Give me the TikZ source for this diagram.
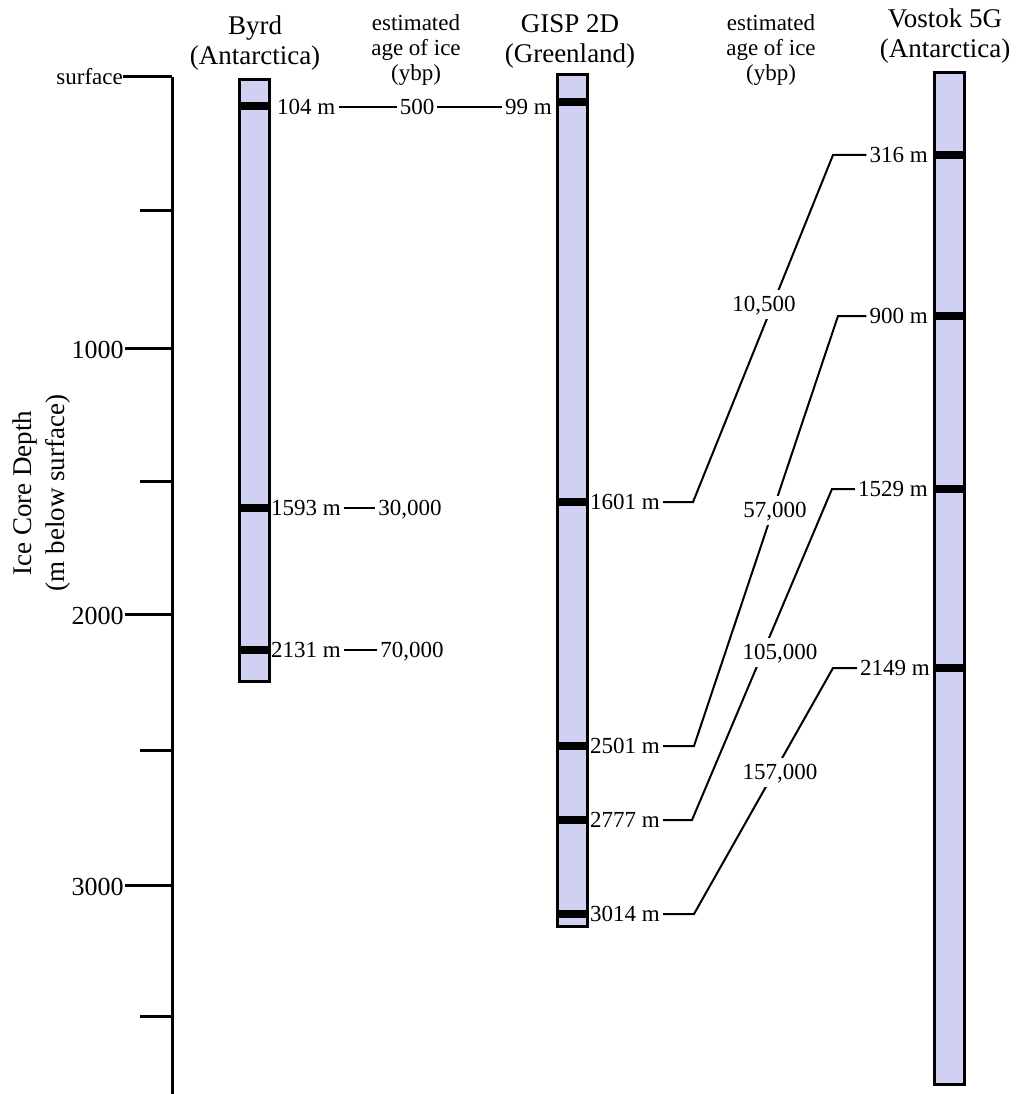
\documentclass[tikz,border=0pt]{standalone}
\usepackage{fontspec}
\setmainfont{Liberation Serif}
\definecolor{icefill}{RGB}{208,209,242}

\begin{document}
\begin{tikzpicture}[x=1pt,y=-1pt,
  core/.style={draw,line width=3pt,fill=icefill,inner sep=0pt,anchor=north,minimum width=30pt},
  band/.style={line width=8pt},
  tick/.style={line width=3pt},
  link/.style={line width=2pt},
  depth/.style={inner sep=3pt,text height=19pt,text depth=4pt,font=\fontsize{23}{25}\selectfont},
  age/.style={inner sep=3pt,fill=white,text height=19pt,text depth=4pt,font=\fontsize{23}{25}\selectfont},
  axisnum/.style={anchor=east,inner sep=0pt,yshift=-2pt,font=\fontsize{26}{28}\selectfont},
  head/.style={align=center,inner sep=0pt,anchor=north,font=\fontsize{27}{30}\selectfont},
  agehead/.style={align=center,inner sep=0pt,anchor=north,font=\fontsize{23}{25}\selectfont}]

\useasboundingbox (0,0) rectangle (1024,1094);

% depth axis
\draw[tick] (172,77) -- (172,1094);
\node[anchor=east,inner sep=0pt,font=\fontsize{23}{25}\selectfont] (surf) at (123,77) {surface};
\draw[tick] (surf.east) -- (172,77);
\foreach \y/\d in {348/1000,614/2000,885/3000}
  \draw[tick] (172,\y) -- (125,\y) node[axisnum] (m\d) {\d};
\foreach \y in {210,481,750,1016}
  \draw[tick] (140,\y) -- (172,\y);
\node[rotate=90,align=center,font=\fontsize{27}{33}\selectfont] (ytitle) at (42,493)
  {Ice Core Depth\\(m below surface)};

% headings
\node[head] (hbyrd) at (255,16) {Byrd\\(Antarctica)};
\node[agehead] (hage1) at (416,14) {estimated\\age of ice\\(ybp)};
\node[head] (hgisp) at (570,14) {GISP 2D\\(Greenland)};
\node[agehead] (hage2) at (771,14) {estimated\\age of ice\\(ybp)};
\node[head] (hvost) at (945,9) {Vostok 5G\\(Antarctica)};

% cores
\node[core,minimum height=602pt] (byrd) at (254,78) {};
\node[core,minimum height=852pt] (gisp) at (572.5,73) {};
\node[core,minimum height=1012pt] (vostok) at (949,71) {};
\foreach \y in {106,508,650}
  \draw[band] (238,\y) -- (270,\y);
\foreach \y in {102,502,746,820,914}
  \draw[band] (556,\y) -- (589,\y);
\foreach \y in {155,316,489,668}
  \draw[band] (933,\y) -- (965,\y);

% Byrd depths
\node[depth,anchor=west] (b104) at (274,107) {104 m};
\node[age] (a500) at (417,107) {500};
\node[depth,anchor=east] (g99) at (555,107) {99 m};
\draw[link] (b104) -- (a500) -- (g99);
\node[depth,anchor=west] (b1593) at (268,508) {1593 m};
\node[age] (a30k) at (410,508) {30,000};
\draw[link] (b1593) -- (a30k);
\node[depth,anchor=west] (b2131) at (268,650) {2131 m};
\node[age] (a70k) at (412,650) {70,000};
\draw[link] (b2131) -- (a70k);

% GISP and Vostok depths
\node[depth,anchor=west] (g1601) at (587,502) {1601 m};
\node[depth,anchor=west] (g2501) at (587,746) {2501 m};
\node[depth,anchor=west] (g2777) at (587,820) {2777 m};
\node[depth,anchor=west] (g3014) at (587,914) {3014 m};
\node[depth,anchor=east] (v316) at (931,155) {316 m};
\node[depth,anchor=east] (v900) at (931,316) {900 m};
\node[depth,anchor=east] (v1529) at (931,489) {1529 m};
\node[depth,anchor=east] (v2149) at (933,668) {2149 m};

\coordinate (k1601) at (693,502);
\coordinate (k316) at (833,155);
\coordinate (k2501) at (694,746);
\coordinate (k900) at (838,316);
\coordinate (k2777) at (692,820);
\coordinate (k1529) at (832,489);
\coordinate (k3014) at (694,914);
\coordinate (k2149) at (833,668);

\draw[link] (g1601) -- (k1601) -- (k316) -- (v316);
\draw[link] (g2501) -- (k2501) -- (k900) -- (v900);
\draw[link] (g2777) -- (k2777) -- (k1529) -- (v1529);
\draw[link] (g3014) -- (k3014) -- (k2149) -- (v2149);

\node[age] (a10k) at (764,304) {10,500};
\node[age] (a57k) at (775,510) {57,000};
\node[age] (a105k) at (780,652) {105,000};
\node[age] (a157k) at (780,772) {157,000};

\end{tikzpicture}
\end{document}
